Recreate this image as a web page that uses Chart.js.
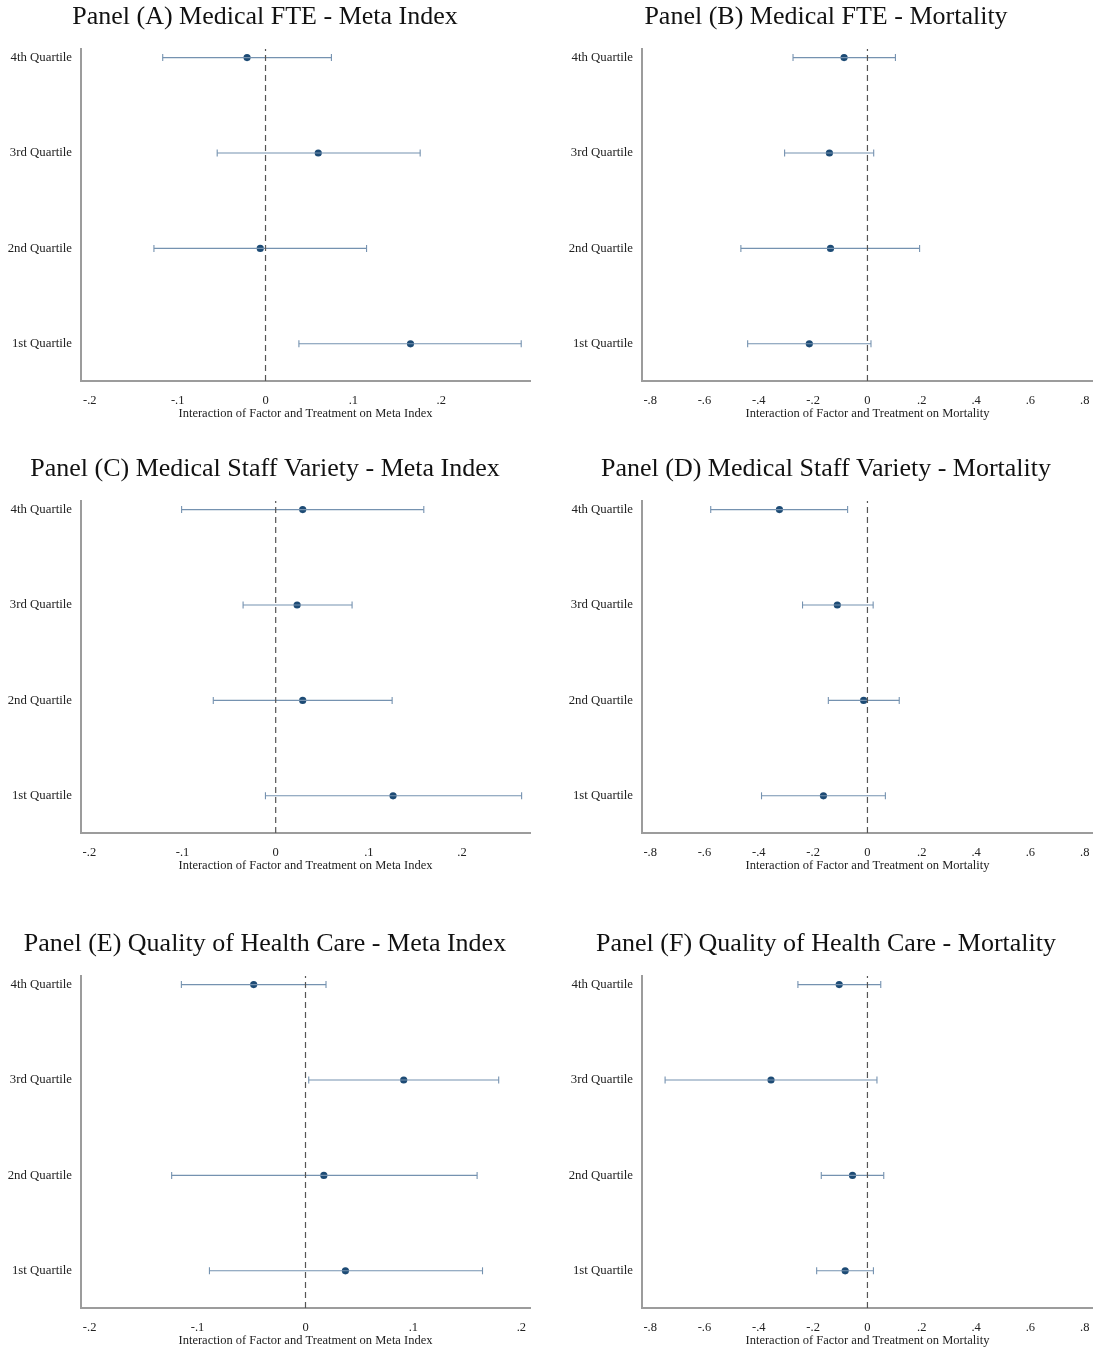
<!DOCTYPE html>
<html>
<head>
<meta charset="utf-8">
<title>Interaction of factor and treatment by quartile</title>
<script src="https://cdn.jsdelivr.net/npm/chart.js@4.4.1/dist/chart.umd.min.js"></script>
<style>
  html, body { margin: 0; padding: 0; background: #fff; overflow: hidden; }
  canvas { position: absolute; }
</style>
</head>
<body>
<canvas id="panelA" width="546" height="425" style="left:0;top:0"></canvas>
<canvas id="panelB" width="552" height="425" style="left:546px;top:0"></canvas>
<canvas id="panelC" width="546" height="425" style="left:0;top:452px"></canvas>
<canvas id="panelD" width="552" height="425" style="left:546px;top:452px"></canvas>
<canvas id="panelE" width="546" height="425" style="left:0;top:927px"></canvas>
<canvas id="panelF" width="552" height="425" style="left:546px;top:927px"></canvas>
<script>
// quartiles, bottom to top (y = 1..4)
var quartiles = ['1st Quartile', '2nd Quartile', '3rd Quartile', '4th Quartile'];

var metaTickValues = [-0.2, -0.1, 0, 0.1, 0.2];
var metaTickLabels = ['-.2', '-.1', '0', '.1', '.2'];
var mortTickValues = [-0.8, -0.6, -0.4, -0.2, 0, 0.2, 0.4, 0.6, 0.8];
var mortTickLabels = ['-.8', '-.6', '-.4', '-.2', '0', '.2', '.4', '.6', '.8'];

// Panel A - Medical FTE, Meta Index
var aEst = [0.165, -0.006, 0.060, -0.021];
var aLo  = [0.038, -0.127, -0.055, -0.117];
var aHi  = [0.291, 0.115, 0.176, 0.075];

// Panel B - Medical FTE, Mortality
var bEst = [-0.214, -0.136, -0.140, -0.086];
var bLo  = [-0.441, -0.466, -0.305, -0.274];
var bHi  = [0.013, 0.192, 0.023, 0.103];

// Panel C - Medical Staff Variety, Meta Index
var cEst = [0.126, 0.029, 0.023, 0.029];
var cLo  = [-0.011, -0.067, -0.035, -0.101];
var cHi  = [0.264, 0.125, 0.082, 0.159];

// Panel D - Medical Staff Variety, Mortality
var dEst = [-0.162, -0.014, -0.111, -0.324];
var dLo  = [-0.390, -0.144, -0.239, -0.577];
var dHi  = [0.066, 0.117, 0.021, -0.073];

// Panel E - Quality of Health Care, Meta Index
var eEst = [0.037, 0.017, 0.091, -0.048];
var eLo  = [-0.089, -0.124, 0.003, -0.115];
var eHi  = [0.164, 0.159, 0.179, 0.019];

// Panel F - Quality of Health Care, Mortality
var fEst = [-0.082, -0.055, -0.355, -0.104];
var fLo  = [-0.187, -0.170, -0.745, -0.256];
var fHi  = [0.022, 0.060, 0.035, 0.049];

var yMin = 0.61, yMax = 4.09;
var serif = "'Liberation Serif', 'DejaVu Serif', serif";
var dotColor = '#1d4b75';
var barColor = '#7592b0';

function makePanel(id, title, xTitle, est, lo, hi, xMin, xMax, tickValues, tickLabels, isRight) {
  var datasets = [];

  // dashed reference line at zero
  datasets.push({
    data: [{ x: 0, y: yMin }, { x: 0, y: yMax }],
    showLine: true,
    borderColor: '#555',
    borderWidth: 1.2,
    borderDash: [6, 4],
    pointRadius: 0
  });

  // confidence intervals with caps
  for (var i = 0; i < est.length; i++) {
    datasets.push({
      data: [{ x: lo[i], y: i + 1 }, { x: hi[i], y: i + 1 }],
      showLine: true,
      borderColor: barColor,
      borderWidth: 1.1,
      pointStyle: 'line',
      rotation: 90,
      pointRadius: 3.5,
      pointBorderColor: barColor,
      pointBorderWidth: 1.1
    });
  }

  // point estimates
  datasets.push({
    data: est.map(function(v, i) { return { x: v, y: i + 1 }; }),
    pointRadius: 3.6,
    pointBackgroundColor: dotColor,
    pointBorderColor: dotColor,
    pointBorderWidth: 0
  });

  new Chart(document.getElementById(id), {
    type: 'scatter',
    data: { datasets: datasets },
    options: {
      responsive: false,
      animation: false,
      devicePixelRatio: 1,
      layout: { padding: { left: isRight ? 8 : 0, right: isRight ? 0 : 16, top: 0, bottom: 0 } },
      plugins: {
        legend: { display: false },
        tooltip: { enabled: false },
        title: {
          display: true,
          text: title,
          color: '#111',
          font: { family: serif, size: 26, weight: 'normal', lineHeight: 1.2 },
          padding: { top: 1.5, bottom: 16.3 }
        }
      },
      scales: {
        x: {
          type: 'linear',
          min: xMin,
          max: xMax,
          grid: { display: false, drawTicks: false },
          border: { display: true, color: '#9c9c9c', width: 2 },
          afterBuildTicks: function(axis) {
            axis.ticks = tickValues.map(function(v) { return { value: v }; });
          },
          afterFit: function(axis) {
            axis.height = 44;
            axis.paddingLeft = 0;
            axis.paddingRight = 0;
          },
          ticks: {
            autoSkip: false,
            maxRotation: 0,
            padding: 12,
            color: '#222',
            font: { family: serif, size: 12.5 },
            callback: function(value, index) { return tickLabels[index]; }
          },
          title: {
            display: true,
            text: xTitle,
            color: '#222',
            font: { family: serif, size: 12.5 },
            padding: { top: 0, bottom: 4 }
          }
        },
        y: {
          type: 'linear',
          min: yMin,
          max: yMax,
          grid: { display: false, drawTicks: false },
          border: { display: true, color: '#9c9c9c', width: 2 },
          afterBuildTicks: function(axis) {
            axis.ticks = quartiles.map(function(q, i) { return { value: i + 1 }; });
          },
          afterFit: function(axis) {
            axis.width = isRight ? 88 : 81;
            axis.paddingTop = 0;
            axis.paddingBottom = 0;
          },
          ticks: {
            autoSkip: false,
            padding: 9,
            color: '#222',
            font: { family: serif, size: 12.8 },
            callback: function(value) { return quartiles[Math.round(value) - 1]; }
          }
        }
      }
    }
  });
}

var metaTitle = 'Interaction of Factor and Treatment on Meta Index';
var mortTitle = 'Interaction of Factor and Treatment on Mortality';

makePanel('panelA', 'Panel (A) Medical FTE - Meta Index', metaTitle, aEst, aLo, aHi, -0.21, 0.301, metaTickValues, metaTickLabels, false);
makePanel('panelB', 'Panel (B) Medical FTE - Mortality', mortTitle, bEst, bLo, bHi, -0.83, 0.83, mortTickValues, mortTickLabels, true);
makePanel('panelC', 'Panel (C) Medical Staff Variety - Meta Index', metaTitle, cEst, cLo, cHi, -0.209, 0.273, metaTickValues, metaTickLabels, false);
makePanel('panelD', 'Panel (D) Medical Staff Variety - Mortality', mortTitle, dEst, dLo, dHi, -0.83, 0.83, mortTickValues, mortTickLabels, true);
makePanel('panelE', 'Panel (E) Quality of Health Care - Meta Index', metaTitle, eEst, eLo, eHi, -0.208, 0.208, metaTickValues, metaTickLabels, false);
makePanel('panelF', 'Panel (F) Quality of Health Care - Mortality', mortTitle, fEst, fLo, fHi, -0.83, 0.83, mortTickValues, mortTickLabels, true);
</script>
</body>
</html>
